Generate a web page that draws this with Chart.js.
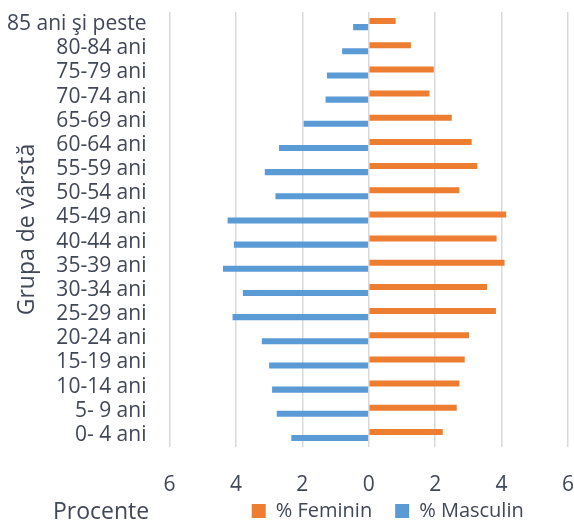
<!DOCTYPE html>
<html>
<head>
<meta charset="utf-8">
<script src="https://cdn.jsdelivr.net/npm/chart.js@4"></script>
<style>
  html, body { margin: 0; padding: 0; background: #fff; }
  #wrap { width: 574px; height: 524px; }
</style>
</head>
<body>
<div id="wrap"><canvas id="myChart"></canvas></div>
<script>
let labels = ['85 ani şi peste', '80-84 ani', '75-79 ani', '70-74 ani', '65-69 ani',
    '60-64 ani', '55-59 ani', '50-54 ani', '45-49 ani', '40-44 ani', '35-39 ani',
    '30-34 ani', '25-29 ani', '20-24 ani', '15-19 ani', '10-14 ani', '5- 9 ani', '0- 4 ani'];
let feminin = [0.81, 1.27, 1.96, 1.83, 2.50, 3.10, 3.27, 2.73, 4.14, 3.85, 4.09,
    3.56, 3.83, 3.02, 2.89, 2.73, 2.65, 2.23];
let masculin = [0.47, 0.80, 1.26, 1.30, 1.96, 2.70, 3.13, 2.81, 4.25, 4.06, 4.39,
    3.79, 4.10, 3.22, 3.00, 2.91, 2.77, 2.33];

let textColor = '#404756';
let fontFamily = '"Open Sans", sans-serif';

// titles drawn by hand, Excel lets them overlap the label column
let titles = {
    id: 'titles',
    afterLayout(chart) {
        // legend sits right of the plot centre and tucks under the tick labels
        let lg = chart.legend;
        lg.left += 19;
        lg.right += 19;
        lg.top -= 21;
        lg.bottom -= 21;
    },
    afterDraw(chart) {
        let ctx = chart.ctx;
        let area = chart.chartArea;
        ctx.save();
        ctx.fillStyle = textColor;
        ctx.font = '23px ' + fontFamily;
        ctx.textBaseline = 'middle';
        ctx.textAlign = 'left';
        ctx.fillText('Procente', 53, 512);
        ctx.translate(27, (area.top + area.bottom) / 2);
        ctx.rotate(-Math.PI / 2);
        ctx.textAlign = 'center';
        ctx.fillText('Grupa de vârstă', 0, 0);
        ctx.restore();
    }
};

function build() {
    let mychart = document.getElementById('myChart').getContext('2d');
    return new Chart(mychart, {
        type: 'bar',
        data: {
            labels: labels,
            datasets: [{
                label: '% Feminin',
                data: feminin,
                backgroundColor: '#ED7D31'
            },
            {
                label: '% Masculin',
                data: masculin.map(v => -v),
                backgroundColor: '#5B9BD5'
            }]
        },
        options: {
            indexAxis: 'y',
            responsive: true,
            maintainAspectRatio: false,
            animation: false,
            layout: {
                padding: { left: 7, top: 12, right: 6, bottom: -28 }
            },
            datasets: {
                bar: {
                    categoryPercentage: 0.5,
                    barPercentage: 1
                }
            },
            scales: {
                x: {
                    min: -6,
                    max: 6,
                    ticks: {
                        stepSize: 2,
                        padding: 25,
                        color: textColor,
                        font: { family: fontFamily, size: 21 },
                        callback: v => Math.abs(v)
                    },
                    grid: {
                        color: '#d9d9d9',
                        lineWidth: 1.5,
                        drawTicks: false
                    },
                    border: { display: false },
                    afterFit: s => { s.height = 52; s.paddingLeft = 0; s.paddingRight = 0; }
                },
                y: {
                    ticks: {
                        autoSkip: false,
                        padding: 23,
                        color: textColor,
                        font: { family: fontFamily, size: 21 }
                    },
                    grid: { display: false, drawTicks: false },
                    border: { display: false },
                    afterFit: s => { s.width -= 23; s.paddingTop = 0; s.paddingBottom = 0; }
                }
            },
            plugins: {
                legend: {
                    position: 'bottom',
                    fullSize: false,
                    labels: {
                        boxWidth: 14,
                        boxHeight: 14,
                        padding: 23,
                        color: textColor,
                        font: { family: fontFamily, size: 20 }
                    }
                },
                tooltip: { enabled: false }
            }
        },
        plugins: [titles]
    });
}

document.fonts.load('21px "Open Sans"').then(build, build);
</script>
</body>
</html>
